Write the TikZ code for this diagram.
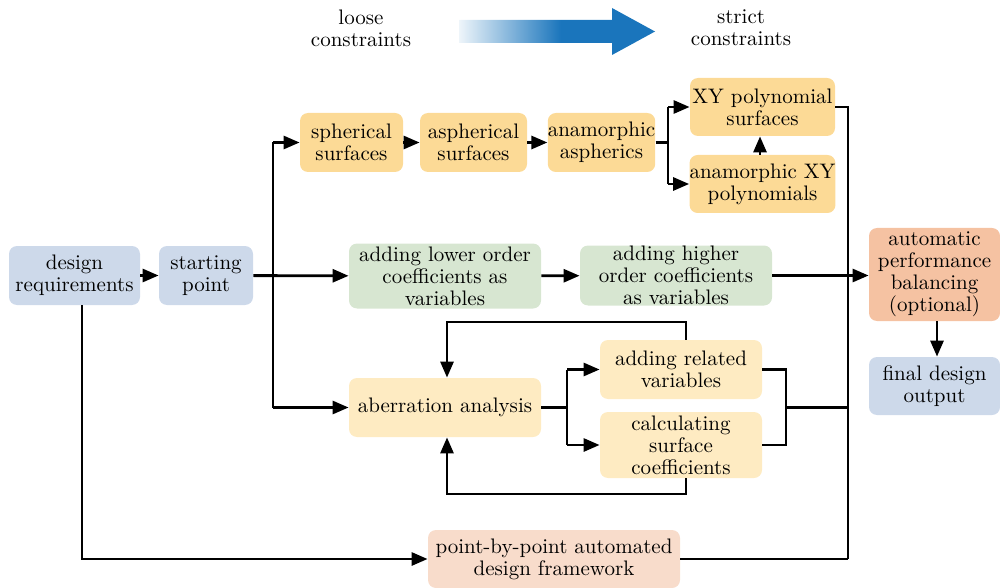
\documentclass[tikz,border=0pt]{standalone}
\usetikzlibrary{arrows.meta}
\definecolor{cblue}{HTML}{CDD9EA}
\definecolor{cyel}{HTML}{FCDA96}
\definecolor{clyel}{HTML}{FEEBC2}
\definecolor{cgreen}{HTML}{D7E6D1}
\definecolor{corange}{HTML}{F5C2A2}
\definecolor{cpeach}{HTML}{F8DCCB}
\definecolor{arrowblue}{HTML}{1A75BC}
\definecolor{palebl}{HTML}{EEF5FA}
\pgfdeclarehorizontalshading{gradarrow}{100bp}{color(0bp)=(palebl); color(25bp)=(palebl); color(51bp)=(arrowblue); color(100bp)=(arrowblue)}
\begin{document}
\begin{tikzpicture}[x=0.5pt,y=-0.5pt,
  every node/.style={font=\fontsize{10.5pt}{11pt}\selectfont},
  box/.style={rounded corners=4pt, inner sep=0pt, align=center},
  ln/.style={line width=1.4pt},
  arr/.style={line width=1.4pt,-{Triangle[length=8pt,width=6.5pt]}}]
\useasboundingbox (0,0) rectangle (1000,588);
% top gradient arrow
\shade[shading=gradarrow] (459,20) -- (612,20) -- (612,8) -- (655,31.5) -- (612,55) -- (612,43) -- (459,43) -- cycle;
\node[align=center] (loose) at (361,28) {loose\\constraints};
\node[align=center] (strict) at (741,28) {strict\\constraints};
% nodes
\node[box, fill=cblue, minimum width=65.5pt, minimum height=29.5pt] (dr) at (74.5,275.5) {design\\requirements};
\node[box, fill=cblue, minimum width=47pt, minimum height=29.5pt] (sp) at (206,275.5) {starting\\point};
\node[box, fill=cyel, minimum width=51.5pt, minimum height=29.5pt] (sph) at (351.5,142.5) {spherical\\surfaces};
\node[box, fill=cyel, minimum width=53.5pt, minimum height=29.5pt] (asph) at (473.5,142.5) {aspherical\\surfaces};
\node[box, fill=cyel, minimum width=53.5pt, minimum height=29.5pt] (anam) at (601.5,142.5) {anamorphic\\aspherics};
\node[box, fill=cyel, minimum width=72.5pt, minimum height=29pt] (xy) at (762.5,107) {XY polynomial\\surfaces};
\node[box, fill=cyel, minimum width=72.5pt, minimum height=29pt] (axy) at (762.5,184) {anamorphic XY\\polynomials};
\node[box, fill=cgreen, minimum width=96pt, minimum height=32.5pt] (g1) at (445,276) {adding lower order\\coefficients as\\variables};
\node[box, fill=cgreen, minimum width=96pt, minimum height=30pt] (g2) at (676,275.5) {adding higher\\order coefficients\\as variables};
\node[box, fill=corange, minimum width=65.5pt, minimum height=46.5pt] (auto) at (934.5,274.5) {automatic\\performance\\balancing\\(optional)};
\node[box, fill=cblue, minimum width=65.5pt, minimum height=29pt] (fin) at (934.5,386) {final design\\output};
\node[box, fill=clyel, minimum width=96pt, minimum height=29.5pt] (ab) at (445,407.5) {aberration analysis};
\node[box, fill=clyel, minimum width=81pt, minimum height=29.5pt] (arv) at (681,369.5) {adding related\\variables};
\node[box, fill=clyel, minimum width=81pt, minimum height=33pt] (csc) at (681,445) {calculating\\surface\\coefficients};
\node[box, fill=cpeach, minimum width=126pt, minimum height=29pt] (pbp) at (554,559) {point-by-point automated\\design framework};
% junction coordinates
\coordinate (L1) at (273,142.5);
\coordinate (L3) at (273,407.5);
\coordinate (B1) at (668,142.5);
\coordinate (B1t) at (668,107);
\coordinate (B1b) at (668,184);
\coordinate (R1) at (848,107);
\coordinate (R2) at (848,559);
\coordinate (R3) at (848,407.5);
\coordinate (B3) at (567,407.5);
\coordinate (B3t) at (567,369.5);
\coordinate (B3b) at (567,445);
\coordinate (C1) at (786,369.5);
\coordinate (C2) at (786,445);
\coordinate (C3) at (786,407.5);
\coordinate (F1) at (686,322);
\coordinate (F2) at (447,322);
\coordinate (F3) at (686,494);
\coordinate (F4) at (447,494);
\coordinate (D1) at (82,559);
% connectors
\draw[arr] (dr) -- (sp);
\draw[arr] (sp) -- (g1);
\draw[ln] (L1) -- (L3);
\draw[arr] (L1) -- (sph);
\draw[arr] (L3) -- (ab);
\draw[arr] (sph) -- (asph);
\draw[arr] (asph) -- (anam);
\draw[ln] (anam) -- (B1);
\draw[ln] (B1t) -- (B1b);
\draw[arr] (B1t) -- (xy);
\draw[arr] (B1b) -- (axy);
\draw[arr] (axy.north -| 760,0) -- (xy.south -| 760,0);
\draw[ln] (xy.east) -- (R1) -- (R2);
\draw[ln] (pbp.east) -- (R2);
\draw[arr] (g1) -- (g2);
\draw[arr] (g2.east) -- (auto.west |- g2.east);
\draw[arr] (auto.south -| 937,0) -- (fin.north -| 937,0);
\draw[ln] (ab) -- (B3);
\draw[ln] (B3t) -- (B3b);
\draw[arr] (B3t) -- (arv);
\draw[arr] (B3b) -- (csc);
\draw[ln] (arv.east) -- (C1) -- (C2) -- (csc.east);
\draw[ln] (C3) -- (R3);
\draw[arr] (arv.north -| F1) -- (F1) -- (F2) -- (ab.north -| F2);
\draw[arr] (csc.south -| F3) -- (F3) -- (F4) -- (ab.south -| F4);
\draw[arr] (dr.south -| D1) -- (D1) -- (pbp.west);
\end{tikzpicture}
\end{document}
